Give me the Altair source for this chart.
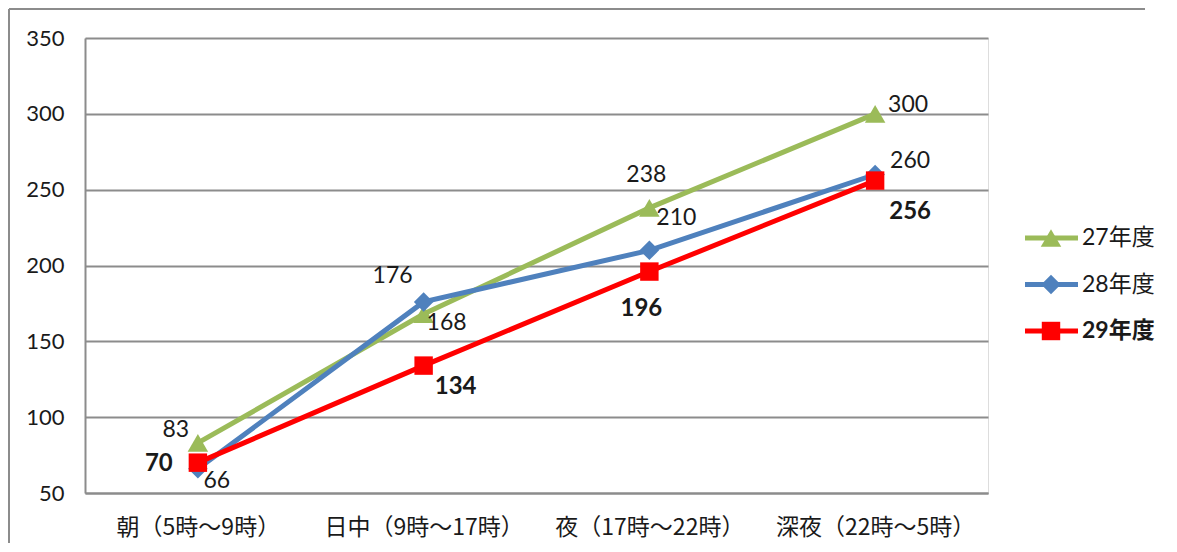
import altair as alt
import pandas as pd

CATS = ["朝（5時～9時）", "日中（9時～17時）", "夜（17時～22時）", "深夜（22時～5時）"]
SERIES = ["27年度", "28年度", "29年度"]
V27 = [83, 168, 238, 300]
V28 = [66, 176, 210, 260]
V29 = [70, 134, 196, 256]
COLORS = ["#9BBB59", "#4F81BD", "#FF0000"]
SHAPES = ["triangle-up", "diamond", "square"]

# label offsets (layout only, in pixels relative to the point)
LABEL_DX = {"27年度": [-22, 23, -3, 33], "28年度": [19, -31, 27, 35], "29年度": [-39, 32, -8, 35]}
LABEL_DY = {"27年度": [-13, 9, -33, -9], "28年度": [12, -26, -32, -14], "29年度": [1, 21, 37, 31]}

rows = []
for s, vals in zip(SERIES, [V27, V28, V29]):
    for i, (c, v) in enumerate(zip(CATS, vals)):
        rows.append({"cat": c, "series": s, "value": v, "idx": i})
df = pd.DataFrame(rows)

NUM_FONT = "Lato, Noto Sans CJK JP"
CJK_FONT = "Noto Sans CJK JP"
GRID = "#8c8c8c"
TXT = "#1a1a1a"

color = alt.Color("series:N", scale=alt.Scale(domain=SERIES, range=COLORS), legend=None)
shape = alt.Shape("series:N", scale=alt.Scale(domain=SERIES, range=SHAPES), legend=None)
size = alt.Size("series:N", scale=alt.Scale(domain=SERIES, range=[420, 340, 440]), legend=None)
x = alt.X("cat:N", sort=CATS, scale=alt.Scale(type="point", padding=0.5), title=None,
          axis=alt.Axis(labelAngle=0, labelFont=CJK_FONT, labelFontSize=23, labelColor=TXT,
                        labelLimit=400, labelPadding=23, ticks=False, domainColor=GRID,
                        domainWidth=2, grid=False))
y = alt.Y("value:Q", scale=alt.Scale(domain=[50, 350], nice=False, zero=False), title=None,
          axis=alt.Axis(values=[50, 100, 150, 200, 250, 300, 350], labelFont=NUM_FONT, labelFontSize=22,
                        labelColor=TXT, labelPadding=21, ticks=False, domainColor=GRID,
                        domainWidth=2, gridColor=GRID, gridWidth=2))

base = alt.Chart(df)
lines = base.mark_line(strokeWidth=5).encode(x=x, y=y, color=color, detail="series:N")
points = base.mark_point(filled=True, opacity=1).encode(x=x, y=y, color=color, shape=shape, size=size)

label_layers = []
for s in SERIES:
    bold = s == "29年度"
    for i in range(len(CATS)):
        label_layers.append(
            base.transform_filter((alt.datum.series == s) & (alt.datum.idx == i))
            .mark_text(font=NUM_FONT, fontSize=24 if bold else 23,
                       fontWeight="bold" if bold else "normal", color=TXT,
                       align="center", baseline="middle",
                       dx=LABEL_DX[s][i], dy=LABEL_DY[s][i])
            .encode(x=x, y=y, text="value:Q"))

# legend
leg_df = pd.DataFrame({"series": SERIES})
leg_y = alt.Y("series:N", scale=alt.Scale(type="point", domain=SERIES, range=[200, 293], padding=0), axis=None)
leg_base = alt.Chart(leg_df)
leg_rule = leg_base.mark_rule(strokeWidth=5).encode(
    x=alt.value(940), x2=alt.value(993), y=leg_y, color=color)
leg_pt = leg_base.mark_point(filled=True, opacity=1).encode(
    x=alt.value(966), y=leg_y, color=color, shape=shape, size=size)
leg_txt = leg_base.transform_filter(alt.datum.series != "29年度").mark_text(
    font=NUM_FONT, fontSize=23, align="left", baseline="middle", color=TXT
).encode(x=alt.value(997), y=leg_y, text="series:N")
leg_txt_b = leg_base.transform_filter(alt.datum.series == "29年度").mark_text(
    font=NUM_FONT, fontSize=23, fontWeight="bold", align="left", baseline="middle", color=TXT
).encode(x=alt.value(997), y=leg_y, text="series:N")

# outer frame: only its top and left edges are visible in the reference
frame_df = pd.DataFrame({"a": [0]})
frame_top = alt.Chart(frame_df).mark_rule(color=GRID, strokeWidth=2).encode(
    x=alt.value(-76), x2=alt.value(1060), y=alt.value(-29))
frame_left = alt.Chart(frame_df).mark_rule(color=GRID, strokeWidth=2).encode(
    x=alt.value(-76), y=alt.value(-29), y2=alt.value(510))

main = alt.layer(lines, points, *label_layers)
legend = alt.layer(leg_rule, leg_pt, leg_txt, leg_txt_b)

chart = alt.layer(main, legend, frame_top, frame_left).resolve_scale(y="independent").properties(
    width=903, height=455,
    autosize=alt.AutoSizeParams(type="none"),
    padding={"left": 77, "top": 30, "right": 181, "bottom": 50},
).configure_view(stroke=None).configure(background="white")

chart.save("out.html", embed_options={"renderer": "svg", "actions": False})
